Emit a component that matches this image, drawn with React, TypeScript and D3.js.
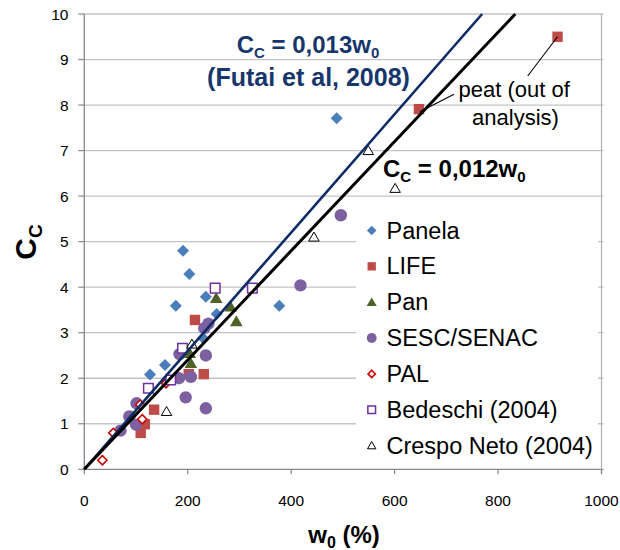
import React from 'react';
import * as d3 from 'd3';

const W = 620;
const H = 550;

// ---- data (w0 in %, Cc) ----
const xTicks = [0, 200, 400, 600, 800, 1000];
const yTicks = [0, 1, 2, 3, 4, 5, 6, 7, 8, 9, 10];

const panelaW = [127, 156, 177, 191, 203, 230, 235, 256, 377, 488];
const panelaC = [2.08, 2.29, 3.59, 4.8, 4.29, 2.88, 3.79, 3.41, 3.59, 7.71];

const lifeW = [109, 117, 135, 202, 214, 231, 647, 915];
const lifeC = [0.8, 0.99, 1.31, 2.09, 3.28, 2.09, 7.91, 9.5];

const panW = [204, 206, 255, 283, 294];
const panC = [2.55, 2.33, 3.76, 3.57, 3.25];

const sescW = [70, 87, 100, 101, 183, 184, 196, 206, 235, 235, 232, 240, 418, 496];
const sescC = [0.85, 1.16, 0.98, 1.45, 2.0, 2.53, 1.58, 2.03, 2.5, 1.34, 3.1, 3.2, 4.04, 5.58];

const palW = [35, 56, 108, 112, 158];
const palC = [0.2, 0.8, 1.42, 1.1, 1.89];

const bedW = [124, 167, 190, 253, 325];
const bedC = [1.78, 1.96, 2.66, 3.98, 3.98];

const crespoW = [159, 208, 444, 549, 601];
const crespoC = [1.27, 2.75, 5.1, 7.0, 6.17];

const seriesNames = ['Panela', 'LIFE', 'Pan', 'SESC/SENAC', 'PAL', 'Bedeschi (2004)', 'Crespo Neto (2004)'];

const futaiSlope = 0.013;
const thisSlope = 0.012;

const FONT = '"Liberation Sans", Arial, sans-serif';

type Shape = 'diamond' | 'square' | 'triangle' | 'circle' | 'odiamond' | 'osquare' | 'otriangle';

function markerPath(shape: Shape, s: number): string {
  const p = d3.path();
  if (shape === 'diamond' || shape === 'odiamond') {
    p.moveTo(0, -s); p.lineTo(s, 0); p.lineTo(0, s); p.lineTo(-s, 0); p.closePath();
  } else if (shape === 'square' || shape === 'osquare') {
    p.rect(-s, -s, 2 * s, 2 * s);
  } else if (shape === 'triangle' || shape === 'otriangle') {
    p.moveTo(0, -s); p.lineTo(s * 1.05, s * 0.8); p.lineTo(-s * 1.05, s * 0.8); p.closePath();
  } else {
    p.arc(0, 0, s, 0, Math.PI * 2);
  }
  return p.toString();
}

const styles: { shape: Shape; size: number; fill: string; stroke: string; sw: number }[] = [
  { shape: 'diamond', size: 6, fill: '#4a7ebb', stroke: 'none', sw: 0 },
  { shape: 'square', size: 5.2, fill: '#be4b48', stroke: 'none', sw: 0 },
  { shape: 'triangle', size: 6, fill: '#4f6228', stroke: 'none', sw: 0 },
  { shape: 'circle', size: 6.2, fill: '#7d60a0', stroke: 'none', sw: 0 },
  { shape: 'odiamond', size: 4.6, fill: 'white', stroke: '#d00000', sw: 1.6 },
  { shape: 'osquare', size: 4.8, fill: 'white', stroke: '#7030a0', sw: 1.5 },
  { shape: 'otriangle', size: 5, fill: 'white', stroke: '#000000', sw: 1 },
];

export default function App() {
  const x = d3.scaleLinear().domain([0, 1000]).range([84.3, 601.5]);
  const y = d3.scaleLinear().domain([0, 10]).range([469.3, 14]);

  const data: [number[], number[]][] = [
    [panelaW, panelaC], [lifeW, lifeC], [panW, panC], [sescW, sescC],
    [palW, palC], [bedW, bedC], [crespoW, crespoC],
  ];

  const line = d3.line<[number, number]>().x(d => x(d[0])).y(d => y(d[1]));
  const futaiLine = line([[0, 0], [10 / futaiSlope, 10]]) || '';
  const thisLine = line([[0, 0], [10 / thisSlope, 10]]) || '';

  const legX = 371.7;
  const legY0 = 230.5;
  const legStep = 35.85;

  const peatW = lifeW[7], peatC = lifeC[7];
  const peat2W = lifeW[6], peat2C = lifeC[6];

  return (
    <svg width={W} height={H} style={{ position: 'absolute', left: 0, top: 0, background: 'white' }} fontFamily={FONT}>
      <rect x={0} y={0} width={W} height={H} fill="white" />
      {/* gridlines */}
      {yTicks.map(t => (
        <line key={'g' + t} x1={x(0)} x2={x(1000) + 2} y1={y(t)} y2={y(t)} stroke={t === 0 ? '#868686' : '#c4c4c4'} strokeWidth={1.3} />
      ))}
      {/* axes */}
      <line x1={x(0)} x2={x(0)} y1={y(10)} y2={y(0)} stroke="#868686" strokeWidth={1.3} />
      <line x1={x(1000)} x2={x(1000)} y1={y(10)} y2={y(0) + 5} stroke="#b0b0b0" strokeWidth={1.2} />
      {yTicks.map(t => (
        <line key={'yt' + t} x1={x(0) - 6} x2={x(0)} y1={y(t)} y2={y(t)} stroke="#868686" strokeWidth={1.2} />
      ))}
      {xTicks.map(t => (
        <line key={'xt' + t} x1={x(t)} x2={x(t)} y1={y(0)} y2={y(0) + 5} stroke="#868686" strokeWidth={1.2} />
      ))}
      {yTicks.map(t => (
        <text key={'yl' + t} x={68.5} y={y(t) + 5.5} textAnchor="end" fontSize={15.5} fill="#000">{t}</text>
      ))}
      {xTicks.map(t => (
        <text key={'xl' + t} x={x(t)} y={506} textAnchor="middle" fontSize={15.5} fill="#000">{t}</text>
      ))}

      {/* legend background */}
      <rect x={356} y={213} width={242} height={250} fill="white" />

      {/* markers */}
      {data.map(([ws, cs], si) => (
        <g key={'s' + si}>
          {ws.map((w, i) => (
            <path key={i} d={markerPath(styles[si].shape, styles[si].size)}
              transform={`translate(${x(w)},${y(cs[i])})`}
              fill={styles[si].fill} stroke={styles[si].stroke} strokeWidth={styles[si].sw} />
          ))}
        </g>
      ))}

      {/* regression lines */}
      <path d={futaiLine} stroke="#0f2b66" strokeWidth={2.6} fill="none" />
      <path d={thisLine} stroke="#000" strokeWidth={3} fill="none" />

      {/* legend */}
      {seriesNames.map((n, i) => (
        <g key={'l' + i}>
          <path d={markerPath(styles[i].shape, styles[i].size * 0.8)}
            transform={`translate(${legX},${legY0 + i * legStep})`}
            fill={styles[i].fill} stroke={styles[i].stroke} strokeWidth={styles[i].sw} />
          <text x={386.5} y={legY0 + i * legStep + 8} fontSize={23.5} fill="#000">{n}</text>
        </g>
      ))}

      {/* annotations */}
      <text x={308} y={53} textAnchor="middle" fontSize={24} fontWeight="bold" fill="#17366b">
        C<tspan fontSize={15} dy={5}>C</tspan><tspan dy={-5}> = 0,013w</tspan><tspan fontSize={15} dy={5}>0</tspan>
      </text>
      <text x={308.5} y={86} textAnchor="middle" fontSize={25} fontWeight="bold" fill="#17366b">(Futai et al, 2008)</text>

      <text x={383} y={176.5} fontSize={24} fontWeight="bold" fill="#000">
        C<tspan fontSize={15} dy={5}>C</tspan><tspan dy={-5}> = 0,012w</tspan><tspan fontSize={15} dy={5}>0</tspan>
      </text>

      <text x={458.5} y={96.5} fontSize={22} fill="#000">peat (out of</text>
      <text x={515.5} y={125} fontSize={22} textAnchor="middle" fill="#000">analysis)</text>
      <line x1={527.7} y1={76} x2={x(peatW)} y2={y(peatC)} stroke="#000" strokeWidth={1.1} />
      <line x1={454} y1={94.3} x2={x(peat2W) + 1} y2={y(peat2C) + 2.5} stroke="#000" strokeWidth={1.1} />

      {/* axis titles */}
      <text transform="translate(36,242) rotate(-90)" textAnchor="middle" fontSize={30} fontWeight="bold" fill="#000">
        C<tspan fontSize={19} dy={6}>C</tspan>
      </text>
      <text x={344} y={543} textAnchor="middle" fontSize={24} fontWeight="bold" fill="#000">
        w<tspan fontSize={16} dy={5}>0</tspan><tspan dy={-5}> (%)</tspan>
      </text>
    </svg>
  );
}
